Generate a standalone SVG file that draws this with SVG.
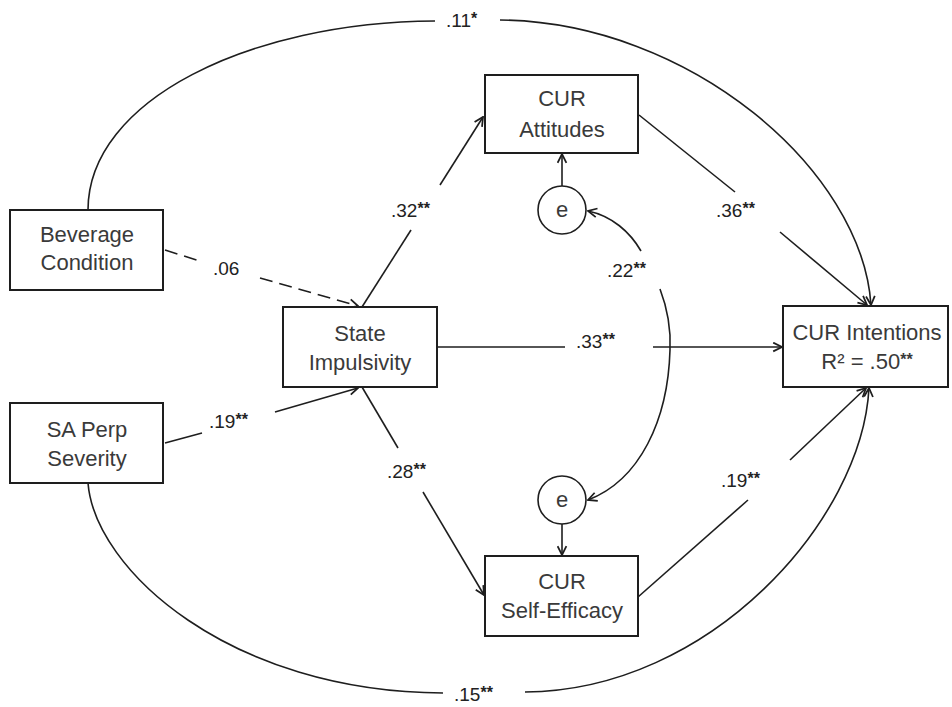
<svg xmlns="http://www.w3.org/2000/svg" width="952" height="707" viewBox="0 0 952 707">
<style>
.box{fill:#fff;stroke:#1e1e1e;stroke-width:2}
.circ{fill:#fff;stroke:#1e1e1e;stroke-width:1.6}
.t{font-family:"Liberation Sans",Arial,sans-serif;font-size:22px;fill:#3a3a3a;text-anchor:middle}
.lbl{font-family:"Liberation Sans",Arial,sans-serif;font-size:19px;fill:#222}
.sup{font-size:16px;font-weight:bold}
.c{fill:none;stroke:#1e1e1e;stroke-width:1.6}
.arr{marker-end:url(#ah)}
.dash{stroke-dasharray:13,7}
</style>
<defs>
<marker id="ah" viewBox="0 0 10 10" refX="9" refY="5" markerWidth="11" markerHeight="11" markerUnits="userSpaceOnUse" orient="auto">
<path d="M1,1 L9,5 L1,9" fill="none" stroke="#1e1e1e" stroke-width="1.6"/>
</marker>
</defs>
<rect width="952" height="707" fill="#fff"/>
<g id="connectors">
<path class="c" d="M88,210 C88,100 250,22 435,21"/>
<path class="c arr" d="M500,20 C690,22 862,170 871,305"/>
<path class="c" d="M88,483 C95,570 230,692 443,693"/>
<path class="c arr" d="M525,692 C710,691 862,520 869,388"/>
<line class="c" x1="362" y1="307" x2="411" y2="230"/>
<line class="c arr" x1="440" y1="185" x2="483" y2="117"/>
<line class="c dash" x1="165" y1="250" x2="203" y2="262"/>
<line class="c dash arr" x1="260" y1="278" x2="358" y2="306"/>
<line class="c" x1="165" y1="443" x2="202" y2="433"/>
<line class="c arr" x1="275" y1="412" x2="358" y2="388"/>
<line class="c" x1="362" y1="387" x2="398" y2="448"/>
<line class="c arr" x1="423" y1="492" x2="484" y2="595"/>
<line class="c" x1="437" y1="347" x2="565" y2="347"/>
<line class="c arr" x1="653" y1="347" x2="782" y2="347"/>
<line class="c" x1="639" y1="115" x2="735" y2="192"/>
<line class="c arr" x1="780" y1="232" x2="867" y2="305"/>
<line class="c" x1="638" y1="597" x2="748" y2="500"/>
<line class="c arr" x1="790" y1="460" x2="866" y2="388"/>
<line class="c arr" x1="562" y1="186" x2="562" y2="154"/>
<line class="c arr" x1="562" y1="524" x2="562" y2="555"/>
<path class="c arr" d="M641,251 C630,232 612,216 588,211"/>
<path class="c arr" d="M660,289 C668,310 671,330 670,350 C668,420 640,480 588,500"/>
</g>
<g id="labels">
<text class="lbl" x="446" y="27">.11<tspan class="sup" dy="-3">*</tspan></text>
<text class="lbl" x="454" y="701">.15<tspan class="sup" dy="-3">**</tspan></text>
<text class="lbl" x="391" y="217">.32<tspan class="sup" dy="-3">**</tspan></text>
<text class="lbl" x="213" y="275">.06</text>
<text class="lbl" x="209" y="428">.19<tspan class="sup" dy="-3">**</tspan></text>
<text class="lbl" x="387" y="478">.28<tspan class="sup" dy="-3">**</tspan></text>
<text class="lbl" x="576" y="348">.33<tspan class="sup" dy="-3">**</tspan></text>
<text class="lbl" x="716" y="217">.36<tspan class="sup" dy="-3">**</tspan></text>
<text class="lbl" x="607" y="277">.22<tspan class="sup" dy="-3">**</tspan></text>
<text class="lbl" x="721" y="487">.19<tspan class="sup" dy="-3">**</tspan></text>
</g>
<g id="beverage">
<rect class="box" x="10" y="210" width="153" height="80"/>
<text class="t" x="87" y="242">Beverage</text>
<text class="t" x="87" y="270">Condition</text>
</g>
<g id="saperp">
<rect class="box" x="10" y="403" width="153" height="80"/>
<text class="t" x="87" y="437">SA Perp</text>
<text class="t" x="87" y="466">Severity</text>
</g>
<g id="state">
<rect class="box" x="283" y="307" width="154" height="80"/>
<text class="t" x="360" y="341">State</text>
<text class="t" x="360" y="370">Impulsivity</text>
</g>
<g id="attitudes">
<rect class="box" x="485" y="75" width="153" height="78"/>
<text class="t" x="562" y="106">CUR</text>
<text class="t" x="562" y="137">Attitudes</text>
</g>
<g id="e1">
<circle class="circ" cx="562" cy="210" r="24"/>
<text class="t" x="562" y="217">e</text>
</g>
<g id="e2">
<circle class="circ" cx="562" cy="500" r="24"/>
<text class="t" x="562" y="507">e</text>
</g>
<g id="selfefficacy">
<rect class="box" x="485" y="556" width="153" height="80"/>
<text class="t" x="562" y="589">CUR</text>
<text class="t" x="562" y="618">Self-Efficacy</text>
</g>
<g id="intentions">
<rect class="box" x="783" y="306" width="165" height="81"/>
<text class="t" x="867" y="340">CUR Intentions</text>
<text class="t" x="867" y="369">R² = .50<tspan class="sup" dy="-4">**</tspan></text>
</g>
</svg>
